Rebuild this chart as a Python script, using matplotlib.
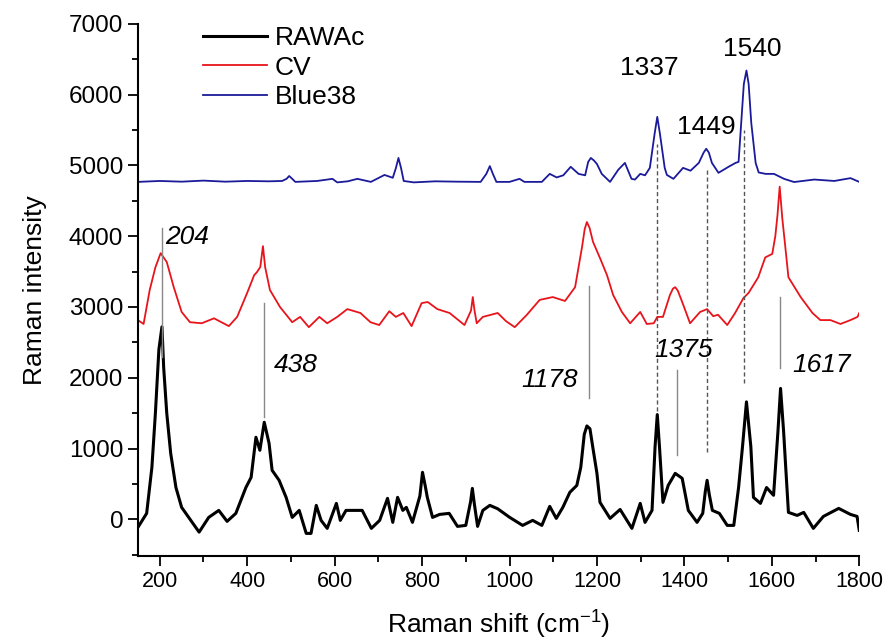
import numpy as np
import matplotlib
matplotlib.use("Agg")
import matplotlib.pyplot as plt
from matplotlib.ticker import MultipleLocator

plt.rcParams['font.family'] = ['Liberation Sans', 'DejaVu Sans']
plt.rcParams['mathtext.default'] = 'regular'

# spectra (Raman shift, intensity)
rawac_x = [150, 170, 182, 190, 198, 205, 209, 216, 225, 237, 250, 271, 290, 312, 335,
           354, 374, 397, 409, 420, 429, 439, 450, 457, 473, 489, 503, 519, 535, 546,
           558, 569, 583, 604, 613, 626, 663, 684, 703, 721, 733, 744, 756, 764, 778,
           795, 801, 807, 812, 824, 840, 862, 881, 900, 911, 915, 920, 927, 939, 955,
           973, 1000, 1030, 1053, 1074, 1092, 1107, 1122, 1138, 1154, 1163, 1171, 1177,
           1184, 1191, 1200, 1207, 1230, 1253, 1280, 1299, 1310, 1326, 1333, 1338,
           1343, 1351, 1363, 1379, 1395, 1409, 1429, 1442, 1448, 1452, 1457, 1464,
           1480, 1498, 1513, 1524, 1533, 1542, 1552, 1558, 1574, 1588, 1604, 1614,
           1620, 1627, 1631, 1638, 1658, 1673, 1695, 1718, 1753, 1780, 1795, 1800]
rawac_y = [-113, 85, 735, 1500, 2400, 2720, 2140, 1500, 933, 450, 170, -14, -180, 28, 127,
           -28, 85, 450, 594, 1160, 976, 1372, 1075, 693, 552, 311, 28, 127, -198, -198,
           198, -14, -127, 226, -14, 127, 127, -127, -14, 297, -42, 311, 127, 170, -42,
           330, 665, 480, 311, 28, 70, 85, -99, -85, 250, 438, 200, -99, 127, 198,
           150, 30, -85, -14, -85, 184, 14, 170, 382, 480, 735, 1200, 1320,
           1280, 1000, 650, 240, 14, 140, -127, 226, -42, 127, 1030, 1480,
           1030, 240, 480, 650, 580, 127, -42, 85, 400, 552, 350, 127,
           85, -85, -85, 450, 1030, 1660, 1030, 311, 226, 450, 340, 1240,
           1850, 1240, 820, 99, 56, 99, -127, 42, 155, 70, 42, -155]

cv_x = [150, 163, 177, 190, 202, 216, 232, 250, 269, 296, 324, 358, 377, 400, 416,
        422, 430, 436, 441, 452, 475, 503, 521, 541, 565, 583, 606, 629, 659, 682,
        702, 725, 740, 757, 776, 799, 813, 835, 863, 897, 912, 916, 920, 925, 939,
        973, 992, 1012, 1039, 1069, 1099, 1127, 1150, 1166, 1172, 1177, 1183, 1191,
        1207, 1223, 1237, 1257, 1276, 1299, 1314, 1330, 1338, 1351, 1367, 1374, 1379,
        1385, 1395, 1413, 1436, 1452, 1466, 1477, 1498, 1516, 1535, 1547, 1569, 1585,
        1601, 1608, 1613, 1618, 1624, 1630, 1638, 1666, 1693, 1711, 1734, 1757, 1780,
        1796, 1800]
cv_y = [2815, 2760, 3240, 3560, 3760, 3635, 3280, 2930, 2785, 2770, 2840, 2730, 2860,
        3200, 3450, 3490, 3565, 3860, 3565, 3240, 3000, 2785, 2860, 2715, 2860, 2770,
        2860, 2970, 2915, 2785, 2745, 2940, 2860, 2915, 2730, 3055, 3070, 2970, 2915,
        2745, 2950, 3140, 2950, 2770, 2860, 2915, 2800, 2715, 2885, 3100, 3140, 3085,
        3280, 3850, 4100, 4200, 4120, 3920, 3690, 3450, 3170, 2930, 2770, 2930, 2760,
        2770, 2860, 2860, 3170, 3260, 3280, 3230, 3070, 2770, 2930, 2970, 2870, 2890,
        2745, 2915, 3125, 3200, 3420, 3700, 3750, 4000, 4300, 4700, 4250, 3900, 3420,
        3140, 2915, 2815, 2815, 2760, 2815, 2860, 2915]

blue_x = [150, 200, 250, 300, 350, 400, 450, 480, 490, 496, 503, 510, 560, 595, 606,
          630, 652, 683, 714, 733, 740, 746, 752, 758, 781, 830, 880, 934, 947, 955,
          962, 970, 1000, 1023, 1034, 1074, 1092, 1108, 1123, 1140, 1158, 1173, 1180,
          1186, 1193, 1200, 1211, 1230, 1249, 1264, 1279, 1287, 1299, 1310, 1321,
          1332, 1338, 1344, 1355, 1360, 1375, 1397, 1414, 1433, 1444, 1450, 1456,
          1463, 1478, 1501, 1517, 1524, 1530, 1536, 1542, 1547, 1553, 1563, 1570,
          1586, 1605, 1628, 1651, 1697, 1743, 1780, 1800]
blue_y = [4767, 4780, 4770, 4785, 4770, 4780, 4775, 4780, 4810, 4850, 4810, 4767, 4780,
          4810, 4760, 4775, 4810, 4767, 4865, 4825, 4960, 5105, 4960, 4780, 4760, 4775,
          4770, 4767, 4880, 4990, 4880, 4767, 4767, 4810, 4767, 4767, 4880, 4830, 4860,
          4980, 4880, 4860, 5050, 5105, 5070, 5020, 4880, 4767, 4940, 5035, 4810, 4800,
          4880, 4860, 4965, 5450, 5685, 5450, 4965, 4865, 4810, 4965, 4925, 5035, 5180,
          5235, 5180, 5035, 4895, 4980, 5035, 5050, 5600, 6150, 6340, 6150, 5600, 5035,
          4900, 4880, 4880, 4810, 4765, 4800, 4780, 4820, 4767]

# marker lines: (position, y start, y end)
solid_marks = [(204, 2290, 4115), (438, 1440, 3055), (1182, 1710, 3295),
               (1382, 905, 2110), (1618, 2135, 3140)]
dashed_marks = [(1338, 1530, 5300), (1452, 950, 4965), (1537, 1920, 5500)]

italic_labels = [('204', 212, 3990, 'left'), ('438', 460, 2180, 'left'),
                 ('1178', 1156, 1965, 'right'), ('1375', 1397, 2390, 'center'),
                 ('1617', 1647, 2180, 'left')]
peak_labels = [('1337', 1319, 6380), ('1449', 1450, 5545), ('1540', 1555, 6650)]

fig = plt.figure(figsize=(8.84, 6.43), dpi=100)
ax = fig.add_axes([0.156, 0.135, 0.816, 0.828])

ax.plot(rawac_x, rawac_y, color='black', lw=2.2, label='RAWAc')
ax.plot(cv_x, cv_y, color='#e8141b', lw=1.3, label='CV')
ax.plot(blue_x, blue_y, color='#1a1a9a', lw=1.3, label='Blue38')

for xm, y0, y1 in solid_marks:
    ax.plot([xm, xm], [y0, y1], color='#888888', lw=1.0)
for xm, y0, y1 in dashed_marks:
    ax.plot([xm, xm], [y0, y1], color='#555555', lw=1.0, dashes=(3, 2))

for txt, xt, yt, ha in italic_labels:
    ax.text(xt, yt, txt, fontsize=19, style='italic', ha=ha, va='center')
for txt, xt, yt in peak_labels:
    ax.text(xt, yt, txt, fontsize=19, ha='center', va='center')

ax.set_xlim(150, 1800)
ax.set_ylim(-520, 7000)
ax.xaxis.set_major_locator(MultipleLocator(200))
ax.xaxis.set_minor_locator(MultipleLocator(100))
ax.yaxis.set_major_locator(MultipleLocator(1000))
ax.yaxis.set_minor_locator(MultipleLocator(500))
ax.tick_params(which='major', direction='out', length=7, width=1.3)
ax.tick_params(which='minor', direction='out', length=4, width=1.3)
ax.tick_params(axis='y', labelsize=17.5)
ax.tick_params(axis='x', labelsize=15.5)

for side in ['top', 'right']:
    ax.spines[side].set_visible(False)
for side in ['left', 'bottom']:
    ax.spines[side].set_linewidth(1.5)

ax.set_xlabel('Raman shift (cm$^{-1}$)', fontsize=19, labelpad=12)
ax.set_ylabel('Raman intensity', fontsize=19, labelpad=16)

ax.legend(loc='upper left', bbox_to_anchor=(0.058, 1.04), frameon=False,
          fontsize=19, handlelength=2.4, handletextpad=0.3, labelspacing=0.2)

fig.savefig('out.png', dpi=100)
